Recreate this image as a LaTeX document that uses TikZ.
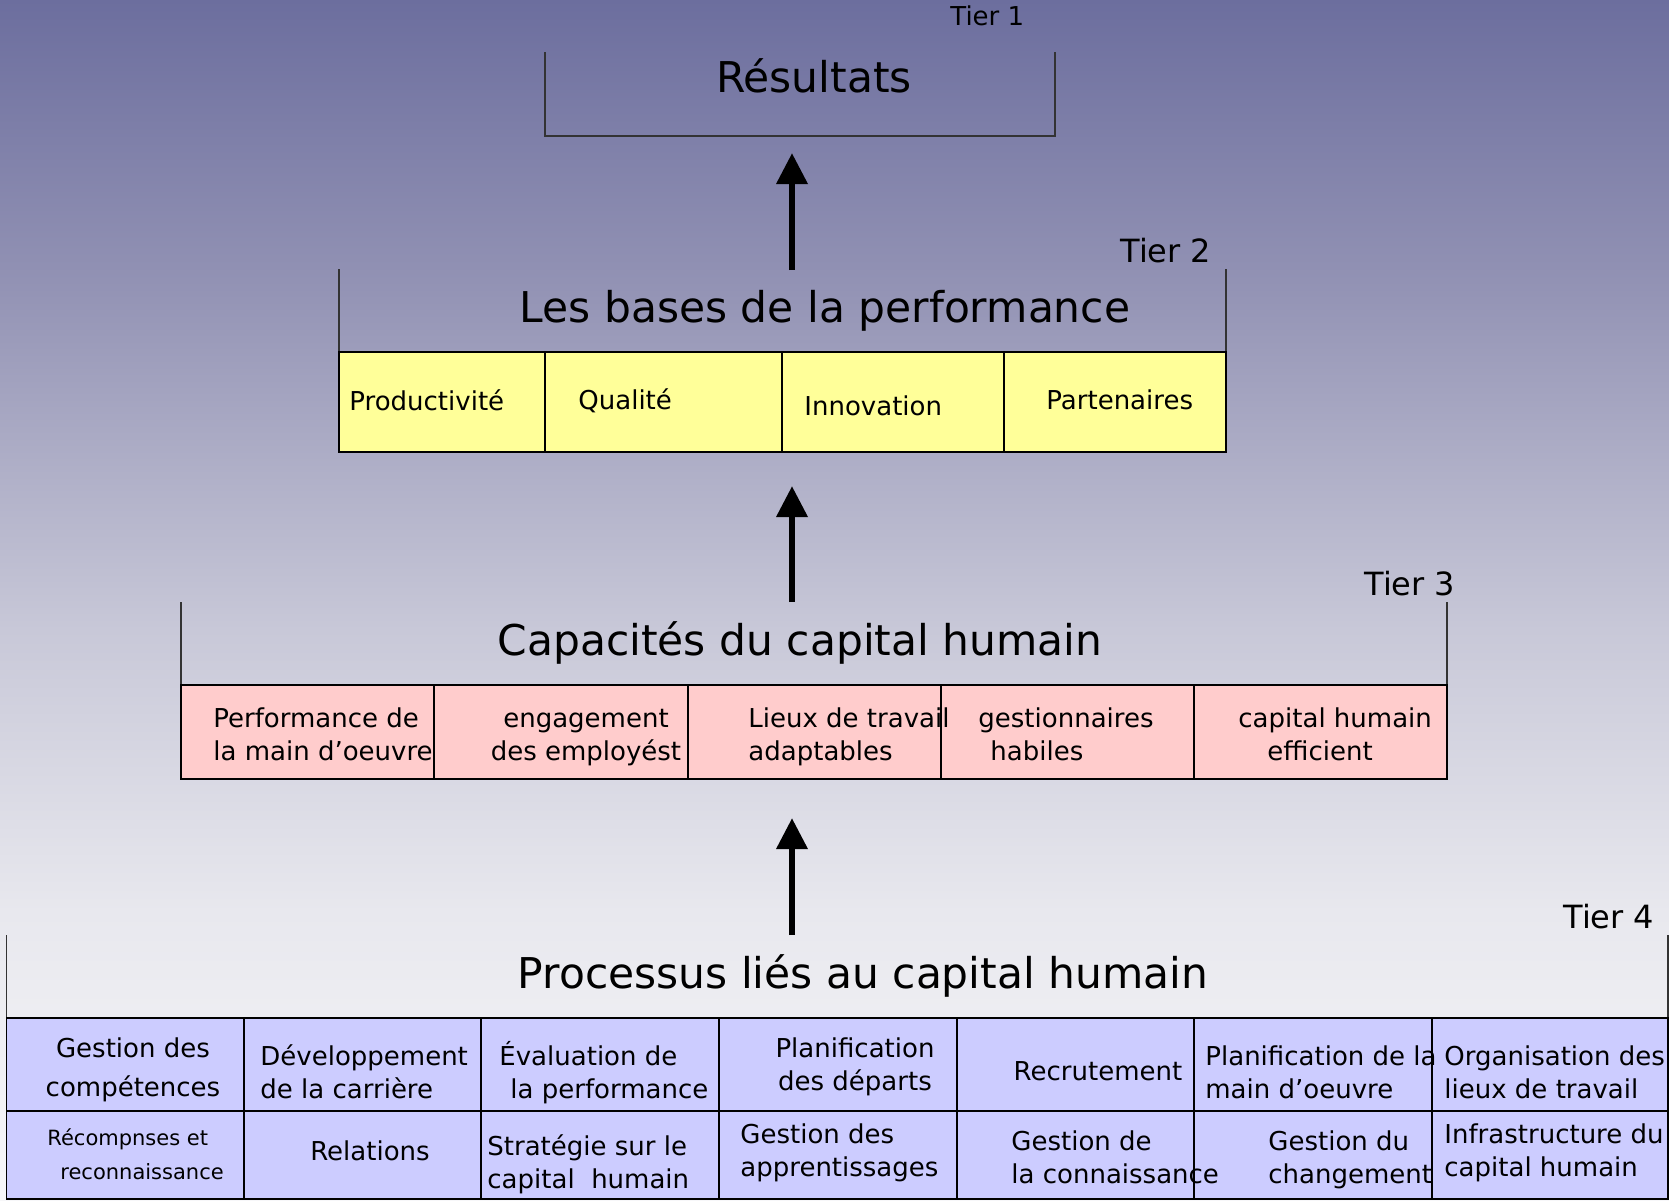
\documentclass[tikz,border=0pt]{standalone}
\usepackage{fontspec}
\setmainfont{DejaVu Sans}
\usetikzlibrary{arrows.meta}

\definecolor{bgtop}{RGB}{108,110,158}
\definecolor{bgupper}{RGB}{146,146,180}
\definecolor{bgmid}{RGB}{200,200,216}
\definecolor{bglower}{RGB}{232,232,238}
\definecolor{bgbot}{RGB}{247,247,249}
\definecolor{cellyellow}{RGB}{255,255,153}
\definecolor{cellpink}{RGB}{255,204,204}
\definecolor{cellblue}{RGB}{204,204,255}

\pgfdeclareverticalshading{tierbg}{100bp}{color(0bp)=(bgbot); color(25bp)=(bgbot);
  color(37bp)=(bglower); color(48.75bp)=(bgmid); color(63.3bp)=(bgupper);
  color(75bp)=(bgtop); color(100bp)=(bgtop)}

\tikzset{
  frame/.style={line width=0.8pt, draw=black!80},
  row/.style={draw=black, line width=0.8pt},
  title/.style={font=\fontsize{21.2}{25}\selectfont, inner sep=0pt, anchor=base},
  tier/.style={font=\fontsize{16}{19}\selectfont, inner sep=0pt, anchor=base west},
  txt/.style={font=\fontsize{13}{16.5}\selectfont, inner sep=0pt, anchor=base west, align=left},
  ctxt/.style={txt, anchor=base, align=center},
  up/.style={line width=3.3pt, -{Triangle[length=15.5pt, width=15pt]}}
}

\begin{document}
\begin{tikzpicture}[x=0.5pt, y=-0.5pt]
  \useasboundingbox (0,0) rectangle (1669,1200);
  \shade[shading=tierbg] (0,0) rectangle (1669,1200);

  % Tier 1
  \draw[frame] (545,52) -- (545,136) -- (1055,136) -- (1055,52);
  \node[title] (res) at (814,92) {Résultats};
  \node[tier, font=\fontsize{13}{16}\selectfont] (tier1) at (950,25) {Tier 1};

  % Tier 2
  \draw[frame] (339,269) -- (339,352);
  \draw[frame] (1226,269) -- (1226,352);
  \draw[row, fill=cellyellow] (339,352) rectangle (1226,452);
  \foreach \x in {545,782,1004}
    \draw[row] (\x,352) -- (\x,452);
  \node[title] (bases) at (825,322) {Les bases de la performance};
  \node[tier] (tier2) at (1120,262) {Tier 2};
  \node[txt] (prod) at (349,410) {Productivité};
  \node[txt] (qual) at (578,409) {Qualité};
  \node[txt] (inno) at (804,415) {Innovation};
  \node[txt] (part) at (1046,409) {Partenaires};

  % Tier 3
  \draw[frame] (181,602) -- (181,685);
  \draw[frame] (1447,602) -- (1447,685);
  \draw[row, fill=cellpink] (181,685) rectangle (1447,779);
  \foreach \x in {434,688,941,1194}
    \draw[row] (\x,685) -- (\x,779);
  \node[title] (capa) at (800,655) {Capacités du capital humain};
  \node[tier] (tier3) at (1364,595) {Tier 3};
  \node[txt] (perf) at (213,760) {Performance de\\la main d’oeuvre};
  \node[ctxt] (enga) at (586,760) {engagement\\des employést};
  \node[txt] (lieu) at (748,760) {Lieux de travail\\adaptables};
  \node[txt] (gest) at (978,760) {gestionnaires\\\hspace*{6pt}habiles};
  \node[txt] (effi) at (1238,760) {capital humain\\\hspace*{14.5pt}efficient};

  % Tier 4
  \draw[frame] (6.5,935) -- (6.5,1018);
  \draw[frame] (1668,935) -- (1668,1018);
  \draw[row, fill=cellblue] (6.5,1018) rectangle (1668,1199);
  \draw[row] (6.5,1111) -- (1668,1111);
  \foreach \x in {244,481,719,957,1194,1432}
    \draw[row] (\x,1018) -- (\x,1199);
  \node[title] (proc) at (863,988) {Processus liés au capital humain};
  \node[tier] (tier4) at (1563,928) {Tier 4};
  \node[ctxt, font=\fontsize{13}{19.5}\selectfont] (comp) at (133,1096) {Gestion des\\compétences};
  \node[txt] (carr) at (260,1098) {Développement\\de la carrière};
  \node[txt] (eval) at (499,1098) {Évaluation de\\\hspace*{5.5pt}la performance};
  \node[ctxt] (depa) at (855,1090) {Planification\\des départs};
  \node[ctxt] (recr) at (1098,1080) {Recrutement};
  \node[txt] (plan) at (1205,1098) {Planification de la\\main d’oeuvre};
  \node[txt] (orga) at (1444,1098) {Organisation des\\lieux de travail};
  \node[txt, font=\fontsize{10.5}{17}\selectfont] (reco) at (47,1179) {Récompnses et\\\hspace*{6.5pt}reconnaissance};
  \node[ctxt] (rela) at (370,1160) {Relations};
  \node[txt] (stra) at (487,1188) {Stratégie sur le\\capital\ \ humain};
  \node[txt] (appr) at (740,1176) {Gestion des\\apprentissages};
  \node[txt] (conn) at (1011,1183) {Gestion de\\la connaissance};
  \node[txt] (chan) at (1268,1183) {Gestion du\\changement};
  \node[txt] (infr) at (1444,1176) {Infrastructure du\\capital humain};

  % arrows between tiers
  \coordinate (a1s) at (792,270);
  \coordinate (a1e) at (792,153);
  \coordinate (a2s) at (792,602);
  \coordinate (a2e) at (792,486);
  \coordinate (a3s) at (792,935);
  \coordinate (a3e) at (792,818);
  \draw[up] (a1s) -- (a1e);
  \draw[up] (a2s) -- (a2e);
  \draw[up] (a3s) -- (a3e);
\end{tikzpicture}
\end{document}
